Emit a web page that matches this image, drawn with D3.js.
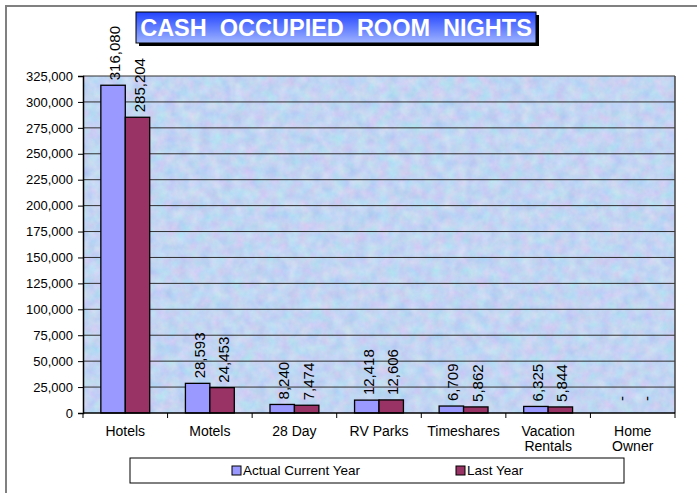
<!DOCTYPE html>
<html>
<head>
<meta charset="utf-8">
<script src="https://cdn.jsdelivr.net/npm/d3@7"></script>
<style>
body { margin: 0; background: #fff; }
text { font-family: Arial, "Liberation Sans", sans-serif; }
</style>
</head>
<body>
<svg width="697" height="493"></svg>
<script>
var categories = ["Hotels", "Motels", "28 Day", "RV Parks", "Timeshares", "Vacation Rentals", "Home Owner"]
var catLines = [["Hotels"], ["Motels"], ["28 Day"], ["RV Parks"], ["Timeshares"], ["Vacation", "Rentals"], ["Home", "Owner"]]
var actualCurrentYear = [316080, 28593, 8240, 12418, 6709, 6325, 0]
var lastYear = [285204, 24453, 7474, 12606, 5862, 5844, 0]
var seriesNames = ["Actual Current Year", "Last Year"]
var yTicks = [0, 25000, 50000, 75000, 100000, 125000, 150000, 175000, 200000, 225000, 250000, 275000, 300000, 325000]

var svg = d3.select("svg")
var colors = ["#9999ff", "#993366"]
var fmt = d3.format(",")

var pL = 83, pR = 675, pT = 76, pB = 413

// outer frame
svg.append("path").attr("d", "M6,493V6H697").attr("fill", "none")
    .attr("stroke", "#808080").attr("stroke-width", 2)

// textured background
var defs = svg.append("defs")
var f = defs.append("filter").attr("id", "tex").attr("x", 0).attr("y", 0).attr("width", 1).attr("height", 1)
    .attr("color-interpolation-filters", "sRGB")
f.append("feTurbulence").attr("type", "fractalNoise").attr("baseFrequency", 0.09).attr("numOctaves", 3).attr("seed", 7)
f.append("feColorMatrix").attr("type", "matrix")
    .attr("values", "0.22 0 0 0 0.65  0 0.15 0 0 0.76  0 0 0.06 0 0.92  0 0 0 0 1")
var grad = defs.append("linearGradient").attr("id", "tg").attr("x1", 0).attr("y1", 0).attr("x2", 0).attr("y2", 1)
grad.append("stop").attr("offset", "0%").attr("stop-color", "#2244ff")
grad.append("stop").attr("offset", "100%").attr("stop-color", "#9fb4ff")

svg.append("rect").attr("x", pL).attr("y", pT).attr("width", pR - pL).attr("height", pB - pT)
    .attr("fill", "#c0d4f4")
svg.append("rect").attr("x", pL).attr("y", pT).attr("width", pR - pL).attr("height", pB - pT)
    .attr("filter", "url(#tex)")

var scY = d3.scaleLinear().domain([0, 325000]).range([pB, pT])
var scX = d3.scaleBand().domain(categories).range([pL, pR])
var scS = d3.scaleBand().domain(seriesNames).range([0, scX.bandwidth()]).paddingInner(0).paddingOuter(0.73)

// gridlines
svg.append("g").selectAll("line").data(yTicks.slice(1)).enter().append("line")
    .attr("x1", pL).attr("x2", pR)
    .attr("y1", d => scY(d)).attr("y2", d => scY(d))
    .attr("stroke", "#303030").attr("stroke-width", 1)

svg.append("line").attr("x1", pR).attr("x2", pR).attr("y1", pT).attr("y2", pB)
    .attr("stroke", "#404040").attr("stroke-width", 1.5)

// bars
var series = [actualCurrentYear, lastYear]
series.forEach(function (vals, si) {
    var g = svg.append("g")
    g.selectAll("rect").data(vals).enter().append("rect")
        .attr("x", (d, i) => scX(categories[i]) + scS(seriesNames[si]))
        .attr("y", d => scY(d))
        .attr("width", scS.bandwidth())
        .attr("height", d => pB - scY(d))
        .attr("fill", colors[si]).attr("stroke", "#000").attr("stroke-width", d => d > 0 ? 1.3 : 0)
    g.selectAll("text").data(vals).enter().append("text")
        .attr("transform", (d, i) => "translate(" + (scX(categories[i]) + scS(seriesNames[si]) + scS.bandwidth() / 2 + 7) + "," + (scY(d) - (d > 0 ? 5 : 12)) + ") rotate(-90)")
        .attr("font-size", 15).attr("fill", "#000")
        .text(d => d > 0 ? fmt(d) : "-")
})

// y axis
var yAx = svg.append("g").attr("transform", "translate(" + pL + ",0)")
    .call(d3.axisLeft(scY).tickValues(yTicks).tickSize(5).tickPadding(5).tickFormat(d3.format(",")))
yAx.selectAll("text").attr("font-size", 13).attr("fill", "#000").attr("font-family", "Arial, 'Liberation Sans', sans-serif")
yAx.selectAll("line").attr("stroke", "#000")
yAx.select(".domain").attr("stroke", "#000").attr("stroke-width", 1.5)

// x axis
var xAx = svg.append("g").attr("transform", "translate(0," + pB + ")")
xAx.append("line").attr("x1", pL).attr("x2", pR).attr("stroke", "#000").attr("stroke-width", 1.5)
xAx.selectAll("line.tk").data(categories).enter().append("line").attr("class", "tk")
    .attr("x1", d => scX(d)).attr("x2", d => scX(d)).attr("y1", 0).attr("y2", 5)
    .attr("stroke", "#000")
xAx.append("line").attr("x1", pR).attr("x2", pR).attr("y1", 0).attr("y2", 5).attr("stroke", "#000")
xAx.selectAll("text.lb").data(categories).enter().append("text").attr("class", "lb")
    .attr("text-anchor", "middle").attr("font-size", 14)
    .attr("x", d => scX(d) + scX.bandwidth() / 2)
    .attr("y", 23)
    .each(function (d, i) {
        d3.select(this).selectAll("tspan").data(catLines[i]).enter().append("tspan")
            .attr("x", scX(d) + scX.bandwidth() / 2)
            .attr("dy", (t, j) => j === 0 ? 0 : 15)
            .text(t => t)
    })

// title
svg.append("rect").attr("x", 139).attr("y", 15).attr("width", 400).attr("height", 31).attr("fill", "#000")
svg.append("rect").attr("x", 136).attr("y", 12).attr("width", 400).attr("height", 31)
    .attr("fill", "url(#tg)").attr("stroke", "#000").attr("stroke-width", 1)
svg.append("text").attr("x", 336).attr("y", 36).attr("text-anchor", "middle")
    .attr("font-size", 23.5).attr("font-weight", "bold").attr("fill", "#fff")
    .attr("xml:space", "preserve").style("white-space", "pre")
    .text("CASH  OCCUPIED  ROOM  NIGHTS")

// legend
var lg = svg.append("g")
lg.append("rect").attr("x", 130).attr("y", 458).attr("width", 494).attr("height", 25)
    .attr("fill", "#fff").attr("stroke", "#000")
var lgX = [232, 456]
seriesNames.forEach(function (n, i) {
    lg.append("rect").attr("x", lgX[i]).attr("y", 466).attr("width", 9).attr("height", 9)
        .attr("fill", colors[i]).attr("stroke", "#000")
    lg.append("text").attr("x", lgX[i] + 11).attr("y", 475).attr("font-size", 13.5).text(n)
})
</script>
</body>
</html>
